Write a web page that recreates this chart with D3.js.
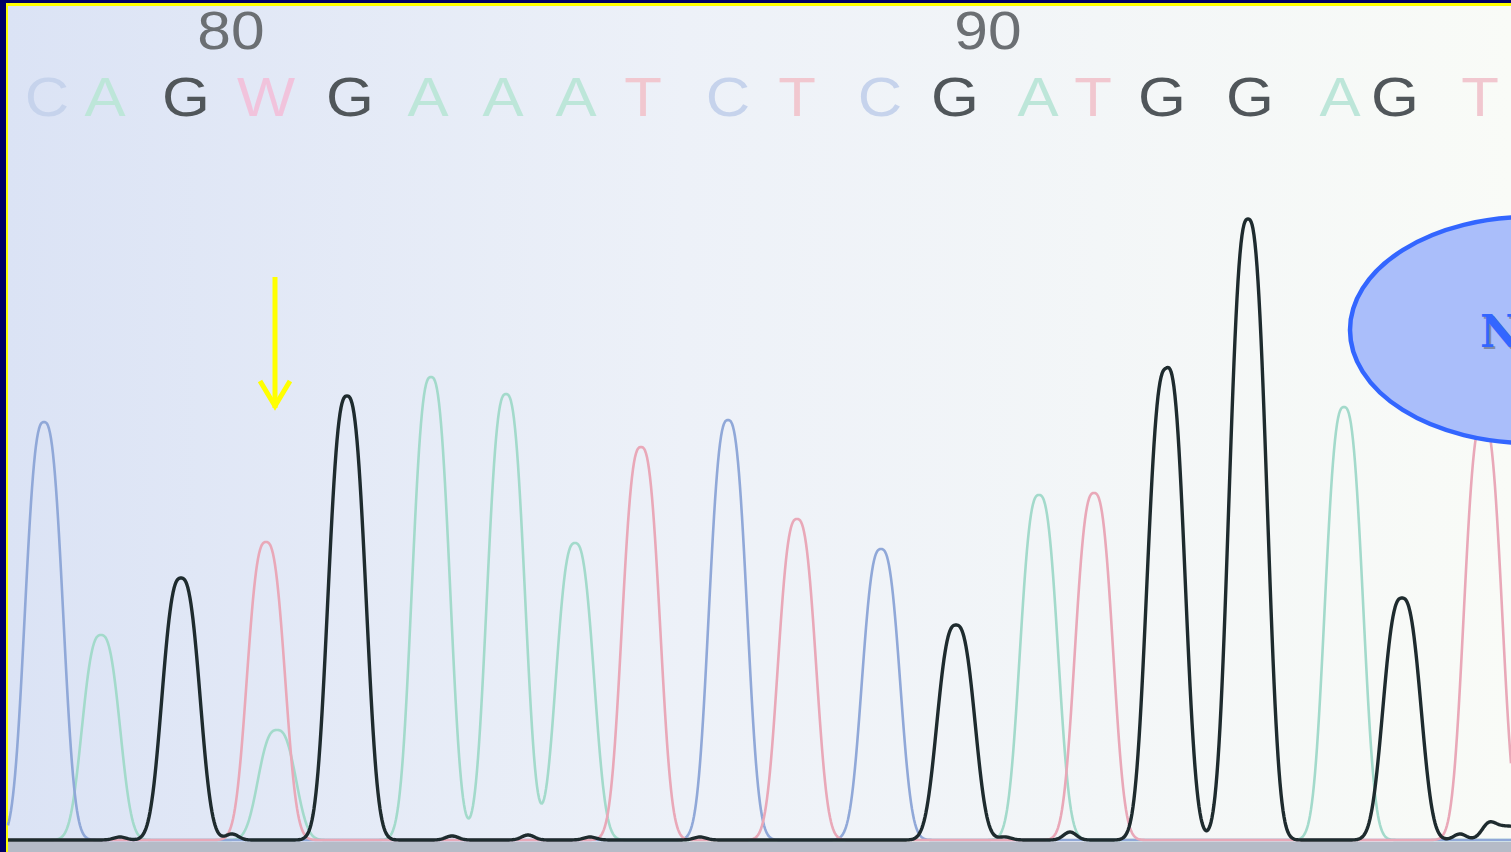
<!DOCTYPE html>
<html>
<head>
<meta charset="utf-8">
<script src="https://cdn.jsdelivr.net/npm/d3@7/dist/d3.min.js"></script>
<style>
  html, body { margin: 0; padding: 0; background: #000066; overflow: hidden; }
  svg { display: block; }
</style>
</head>
<body>
<svg class="trace_svg" width="1511" height="852"></svg>
<script>
let svg = d3.select("svg.trace_svg");
let width = +svg.attr("width");
let height = +svg.attr("height");

/* Base calls shown above the trace */
let bases = ["C", "A", "G", "W", "G", "A", "A", "A", "T", "C", "T", "C", "G", "A", "T", "G", "G", "A", "G", "T"];
let base_pos = [47, 105, 186, 266, 350, 428, 503, 576, 643, 728, 797, 880, 955, 1038, 1093, 1162, 1250, 1340, 1395, 1480];

/* Position ruler */
let ruler_labels = ["80", "90"];
let ruler_pos = [231, 988];

/* Peaks per channel: scan position and signal height */
let a_pos = [101, 277, 431, 506, 575, 1039, 1344];
let a_height = [205, 110, 463, 446, 297, 345, 433];
let c_pos = [44, 728, 881];
let c_height = [418, 420, 291];
let g_pos = [181, 347, 956, 1166, 1248, 1402, 1506];
let g_height = [262, 444, 215, 470, 621, 242, 14];
let t_pos = [266, 641, 797, 1094, 1483];
let t_height = [298, 393, 321, 347, 420];

/* Small wiggles of the baseline */
let noise_pos = [120, 232, 452, 528, 590, 700, 1005, 1070, 1178, 1275, 1460, 1488];
let noise_height = [3, 6, 4, 5, 3, 3, 3, 8, 11, 4, 6, 9];

let channels = [
    {name: "A", pos: a_pos, h: a_height, color: "#a3dacb", width: 2.6},
    {name: "C", pos: c_pos, h: c_height, color: "#90a8d8", width: 2.6},
    {name: "T", pos: t_pos, h: t_height, color: "#e9a8b8", width: 2.6},
    {name: "G", pos: g_pos, h: g_height, color: "#1e2b2e", width: 3.4}
];

let base_colors = {C: "#c6d3ec", A: "#bde6d9", G: "#50565a", T: "#f1c7cf", W: "#f1c3dc"};

let x = d3.scaleLinear().domain([0, 1511]).range([0, 1511]);
let y = d3.scaleLinear().domain([0, 650]).range([840, 190]);

// peak shape, a bit sharper on top than a plain gaussian
function peak_shape(dx){
    return Math.exp(-Math.pow(Math.abs(dx) / 23, 2.7));
}

function signal(ch, s){
    let v = 0;
    ch.pos.forEach(function(p, i){ v += ch.h[i] * peak_shape(s - p); });
    return v;
}

/* Background */
let defs = svg.append("defs");
let grad = defs.append("linearGradient").attr("id", "bg_grad")
    .attr("x1", "0").attr("y1", "0").attr("x2", "1").attr("y2", "0");
grad.append("stop").attr("offset", "0").attr("stop-color", "#dbe3f5");
grad.append("stop").attr("offset", "0.45").attr("stop-color", "#edf1f8");
grad.append("stop").attr("offset", "1").attr("stop-color", "#f9fbf7");

svg.append("rect").attr("width", width).attr("height", height).attr("fill", "#000066");
svg.append("rect").attr("x", 6).attr("y", 3).attr("width", width - 6).attr("height", height - 3).attr("fill", "#ffff00");
svg.append("rect").attr("x", 8).attr("y", 6).attr("width", width - 8).attr("height", height - 6).attr("fill", "url(#bg_grad)");

let plot = svg.append("g");

/* bottom strip under the baseline */
plot.append("rect").attr("x", 8).attr("y", y(0) + 2).attr("width", width - 8).attr("height", height - y(0) - 2)
    .attr("fill", "#b5bbc7");

/* Ruler numbers */
plot.selectAll(".ruler").data(ruler_labels).enter().append("text")
    .attr("class", "ruler")
    .attr("transform", function(d, i){ return "translate(" + x(ruler_pos[i]) + ",49) scale(1.12,1)"; })
    .attr("text-anchor", "middle")
    .attr("font-family", "Liberation Sans, Arial, sans-serif")
    .attr("font-size", 54)
    .attr("fill", "#6b6f73")
    .text(function(d){ return d; });

/* Base letters */
plot.selectAll(".base").data(bases).enter().append("text")
    .attr("class", "base")
    .attr("transform", function(d, i){ return "translate(" + x(base_pos[i]) + ",116) scale(1.12,1)"; })
    .attr("text-anchor", "middle")
    .attr("font-family", "Liberation Sans, Arial, sans-serif")
    .attr("font-size", 55)
    .attr("fill", function(d){ return base_colors[d]; })
    .text(function(d){ return d; });

/* Traces */
let scans = d3.range(8, 1512, 1);
let line = d3.line()
    .x(function(d){ return x(d[0]); })
    .y(function(d){ return y(d[1]); });

plot.selectAll(".trace").data(channels).enter().append("path")
    .attr("class", "trace")
    .attr("fill", "none")
    .attr("stroke", function(ch){ return ch.color; })
    .attr("stroke-width", function(ch){ return ch.width; })
    .attr("stroke-linejoin", "round")
    .attr("d", function(ch){
        let pts = scans.map(function(s){
            let v = signal(ch, s);
            if (ch.name === "G") {
                noise_pos.forEach(function(p, i){ v += noise_height[i] * Math.exp(-Math.pow((s - p) / 9, 2)); });
            }
            return [s, v];
        });
        return line(pts);
    });

/* Arrow marking the heterozygous position */
let arrow = plot.append("g").attr("stroke", "#ffff00").attr("stroke-width", 5).attr("fill", "none")
    .attr("stroke-linecap", "butt");
arrow.append("line").attr("x1", 275).attr("y1", 277).attr("x2", 275).attr("y2", 408);
arrow.append("path").attr("d", "M260,381 L275,406 L290,381").attr("stroke-linejoin", "miter");

/* Callout bubble */
let bubble = svg.append("g");
bubble.append("ellipse")
    .attr("cx", 1530).attr("cy", 330).attr("rx", 180).attr("ry", 113)
    .attr("fill", "#aabefa").attr("stroke", "#3366ff").attr("stroke-width", 4.5);
bubble.append("text")
    .attr("x", 1482).attr("y", 349)
    .attr("font-family", "DejaVu Serif, serif")
    .attr("font-weight", "bold")
    .attr("font-size", 44)
    .attr("fill", "#7f8aa8")
    .text("N");
bubble.append("text")
    .attr("x", 1480).attr("y", 347)
    .attr("font-family", "DejaVu Serif, serif")
    .attr("font-weight", "bold")
    .attr("font-size", 44)
    .attr("fill", "#3366ff")
    .text("N");
</script>
</body>
</html>
